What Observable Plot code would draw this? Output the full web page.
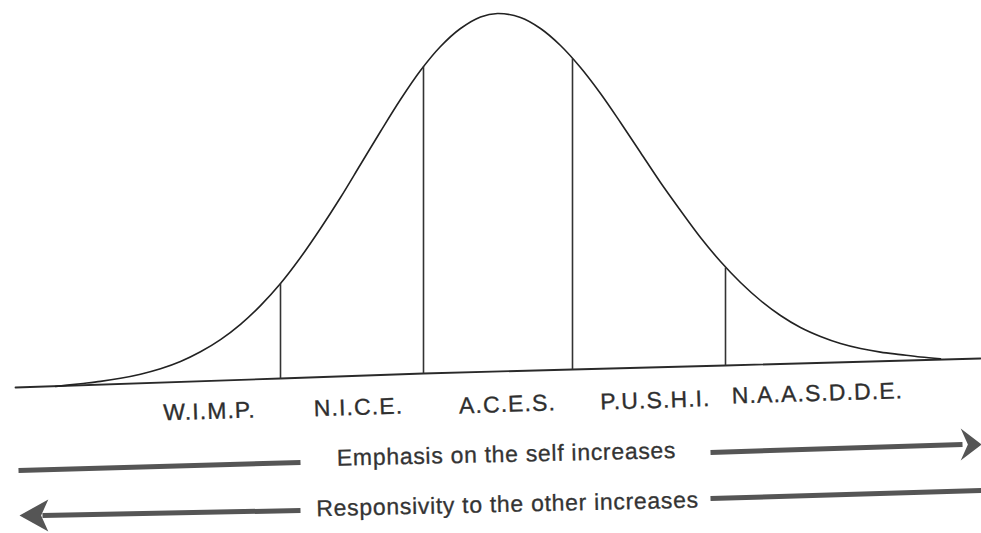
<!DOCTYPE html>
<html><head><meta charset="utf-8">
<script src="https://cdn.jsdelivr.net/npm/d3@7"></script>
<script src="https://cdn.jsdelivr.net/npm/@observablehq/plot@0.6"></script>
<style>body{margin:0;background:#fff;overflow:hidden;}</style>
</head><body><div id="chart"></div>
<script>
// Bell curve outline (x position, height above the page line)
const curveX = [55,80,100,120,140,160,180,200,220,240,260,280,300,320,340,360,380,400,420,440,460,480,497,520,540,560,580,600,620,640,660,680,700,720,740,760,780,800,820,840,860,880,900,920,940];
const curveY = [2,4.8,7.1,10.2,14.3,19.7,27,36.7,48.9,64.2,82.9,105,131,160,191,224,257,289,318,342,360,371.6,375,371,360,343,321,295,266,236,206,178,151,127,106,88,73,61,52,45,40,36.4,33.9,31.5,29.8];
// Base line (slightly tilted in the scan)
const baselineX = [15,280,423,572,725,980];
const baselineY = [1,10,15,19,23,30];
// Dividers between the five groups
const dividerX = [280,423,572,725];
const dividerTop = [105,322,330,121];
const dividerBase = [10,15,19,23];
// Group labels
const labels = ["W.I.M.P.","N.I.C.E.","A.C.E.S.","P.U.S.H.I.","N.A.A.S.D.D.E."];
const labelX = [209,358,507,655,817];
const labelY = [-23,-19,-16,-12,-5];
// Arrow captions
const arrowTexts = ["Emphasis on the self increases","Responsivity to the other increases"];
const arrowTextX = [506,507];
const arrowTextY = [-66,-116];
// Arrow shafts
const segX1 = [18,710,300,710];
const segY1 = [-82,-64,-122,-110];
const segX2 = [300,962,42,981];
const segY2 = [-74,-56,-127,-102];
// Arrow heads (tip position and direction)
const headX = [981,19];
const headY = [-56,-127];
const headDir = ["right","left"];

const curve = curveX.map((x,i)=>({x, y: curveY[i]}));
const base = baselineX.map((x,i)=>({x, y: baselineY[i]}));
const dividers = dividerX.map((x,i)=>({x, y1: dividerBase[i], y2: dividerTop[i]}));
const labs = labels.map((t,i)=>({t, x: labelX[i], y: labelY[i]}));
const caps = arrowTexts.map((t,i)=>({t, x: arrowTextX[i], y: arrowTextY[i]}));
const segs = segX1.map((x1,i)=>({x1, y1: segY1[i], x2: segX2[i], y2: segY2[i]}));
const heads = headX.map((x,i)=>({x, y: headY[i], dir: headDir[i]}));

function headSymbol(sign, len) {
  return {
    draw(ctx, size) {
      const r = Math.sqrt(size / Math.PI);
      ctx.moveTo(0, 0);
      ctx.lineTo(-sign * len * r, -1.0 * r);
      ctx.lineTo(-sign * (len - 0.45) * r, 0);
      ctx.lineTo(-sign * len * r, 1.0 * r);
      ctx.closePath();
    }
  };
}

const chart = Plot.plot({
  width: 981, height: 533,
  margin: 0,
  x: {domain: [0, 981], axis: null},
  y: {domain: [-145, 388], axis: null},
  style: {background: "#fff", fontFamily: "Liberation Sans, Arial, sans-serif"},
  marks: [
    Plot.line(base, {x: "x", y: "y", stroke: "#2a2a2a", strokeWidth: 1.8}),
    Plot.line(curve, {x: "x", y: "y", stroke: "#222", strokeWidth: 1.6, curve: "catmull-rom"}),
    Plot.link(dividers, {x1: "x", x2: "x", y1: "y1", y2: "y2", stroke: "#333", strokeWidth: 1.6}),
    Plot.text(labs, {x: "x", y: "y", text: "t", fontSize: 23, fill: "#2e2e2e", stroke: "#2e2e2e", strokeWidth: 0.35, rotate: -1.8, className: "grp"}),
    Plot.text(caps, {x: "x", y: "y", text: "t", fontSize: 23, fill: "#333", stroke: "#333", strokeWidth: 0.3, rotate: -1.3, className: "cap"}),
    Plot.link(segs, {x1: "x1", y1: "y1", x2: "x2", y2: "y2", stroke: "#555", strokeWidth: 5}),
    Plot.dot(heads.filter(d=>d.dir==="right"), {x: "x", y: "y", r: 16, symbol: headSymbol(1, 1.3), fill: "#555", stroke: "none"}),
    Plot.dot(heads.filter(d=>d.dir==="left"), {x: "x", y: "y", r: 16, symbol: headSymbol(-1, 1.8), fill: "#555", stroke: "none"})
  ]
});
d3.select(chart).selectAll(".grp text").attr("letter-spacing", "1.1px");
d3.select(chart).selectAll(".cap text").attr("letter-spacing", "0.7px");
document.getElementById("chart").appendChild(chart);
</script>
</body></html>
